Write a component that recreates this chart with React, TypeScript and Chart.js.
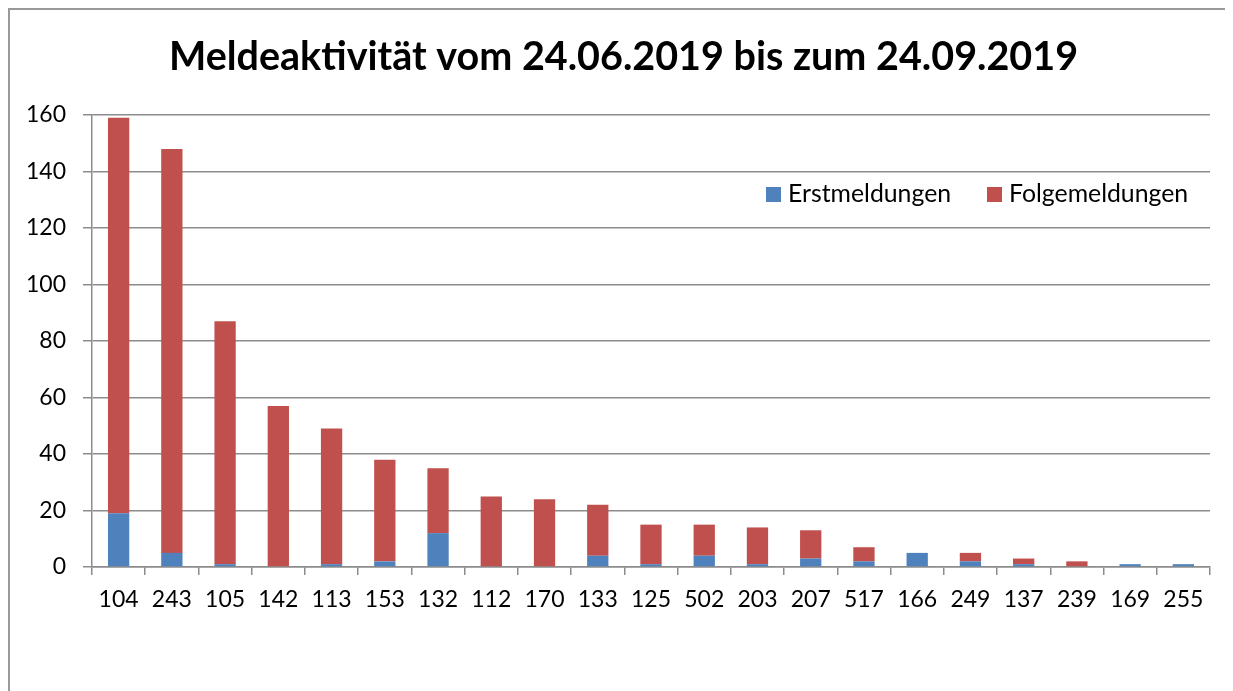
import React, { useEffect, useRef } from "react";
import { Chart, registerables } from "chart.js";

Chart.register(...registerables);

const categories = ["104", "243", "105", "142", "113", "153", "132", "112", "170", "133", "125", "502", "203", "207", "517", "166", "249", "137", "239", "169", "255"];
const erstmeldungen = [19, 5, 1, 0, 1, 2, 12, 0, 0, 4, 1, 4, 1, 3, 2, 5, 2, 1, 0, 1, 1];
const folgemeldungen = [140, 143, 86, 57, 48, 36, 23, 25, 24, 18, 14, 11, 13, 10, 5, 0, 3, 2, 2, 0, 0];
const yTicks = [0, 20, 40, 60, 80, 100, 120, 140, 160];
const titleText = "Meldeaktivität vom 24.06.2019 bis zum 24.09.2019";

const FONT = "Lato, 'Open Sans', sans-serif";
const BLUE = "#4F81BD";
const RED = "#C0504D";
const GRID = "#8c8c8c";

const titleLegendPlugin = {
  id: "titleLegend",
  afterDraw(chart: any) {
    const ctx = chart.ctx;
    ctx.save();
    ctx.font = `bold 39.5px ${FONT}`;
    ctx.textAlign = "center";
    ctx.textBaseline = "middle";
    ctx.fillStyle = "#000";
    ctx.fillText(titleText, 613.5, 47);

    const items = chart.data.datasets.map((d: any) => ({ label: d.label, color: d.backgroundColor }));
    const pos = [756, 977];
    const y = 184;
    ctx.font = `24.8px ${FONT}`;
    ctx.textAlign = "left";
    items.forEach((it: any, i: number) => {
      ctx.fillStyle = it.color;
      ctx.fillRect(pos[i], y - 7, 15, 15);
      ctx.fillStyle = "#000";
      ctx.fillText(it.label, pos[i] + 22, y);
    });
    ctx.restore();
  },
};

export default function App() {
  const ref = useRef<HTMLCanvasElement | null>(null);
  useEffect(() => {
    if (!ref.current) return;
    const chart = new Chart(ref.current, {
      type: "bar",
      data: {
        labels: categories,
        datasets: [
          { label: "Erstmeldungen", data: erstmeldungen, backgroundColor: BLUE, borderWidth: 0, barPercentage: 0.4, categoryPercentage: 1 },
          { label: "Folgemeldungen", data: folgemeldungen, backgroundColor: RED, borderWidth: 0, barPercentage: 0.4, categoryPercentage: 1 },
        ],
      },
      options: {
        animation: false,
        responsive: false,
        maintainAspectRatio: false,
        layout: { padding: { top: 105, right: 15, bottom: 0, left: 0 } },
        plugins: {
          legend: { display: false },
          tooltip: { enabled: false },
          title: { display: false },
        },
        scales: {
          x: {
            stacked: true,
            grid: { drawOnChartArea: false, color: GRID, lineWidth: 1.5, tickLength: 8, offset: true },
            border: { color: GRID, width: 1.5 },
            ticks: { color: "#000", font: { family: FONT, size: 23 }, padding: 11, maxRotation: 0, autoSkip: false },
            afterFit: (s: any) => { s.height = 124; },
          },
          y: {
            stacked: true,
            min: 0,
            max: 160,
            afterBuildTicks: (s: any) => { s.ticks = yTicks.map((v) => ({ value: v })); },
            grid: { color: GRID, lineWidth: 1.5, tickLength: 9 },
            border: { color: GRID, width: 1.5 },
            ticks: { color: "#000", font: { family: FONT, size: 23 }, padding: 17 },
            afterFit: (s: any) => { s.width = 82; },
          },
        },
      },
      plugins: [titleLegendPlugin],
    });
    return () => chart.destroy();
  }, []);
  return (
    <div style={{ position: "relative", width: 1217, height: 683, borderTop: "2px solid #999", borderLeft: "2px solid #999", boxSizing: "border-box" }}>
      <canvas ref={ref} width={1215} height={681} style={{ display: "block" }} />
    </div>
  );
}
